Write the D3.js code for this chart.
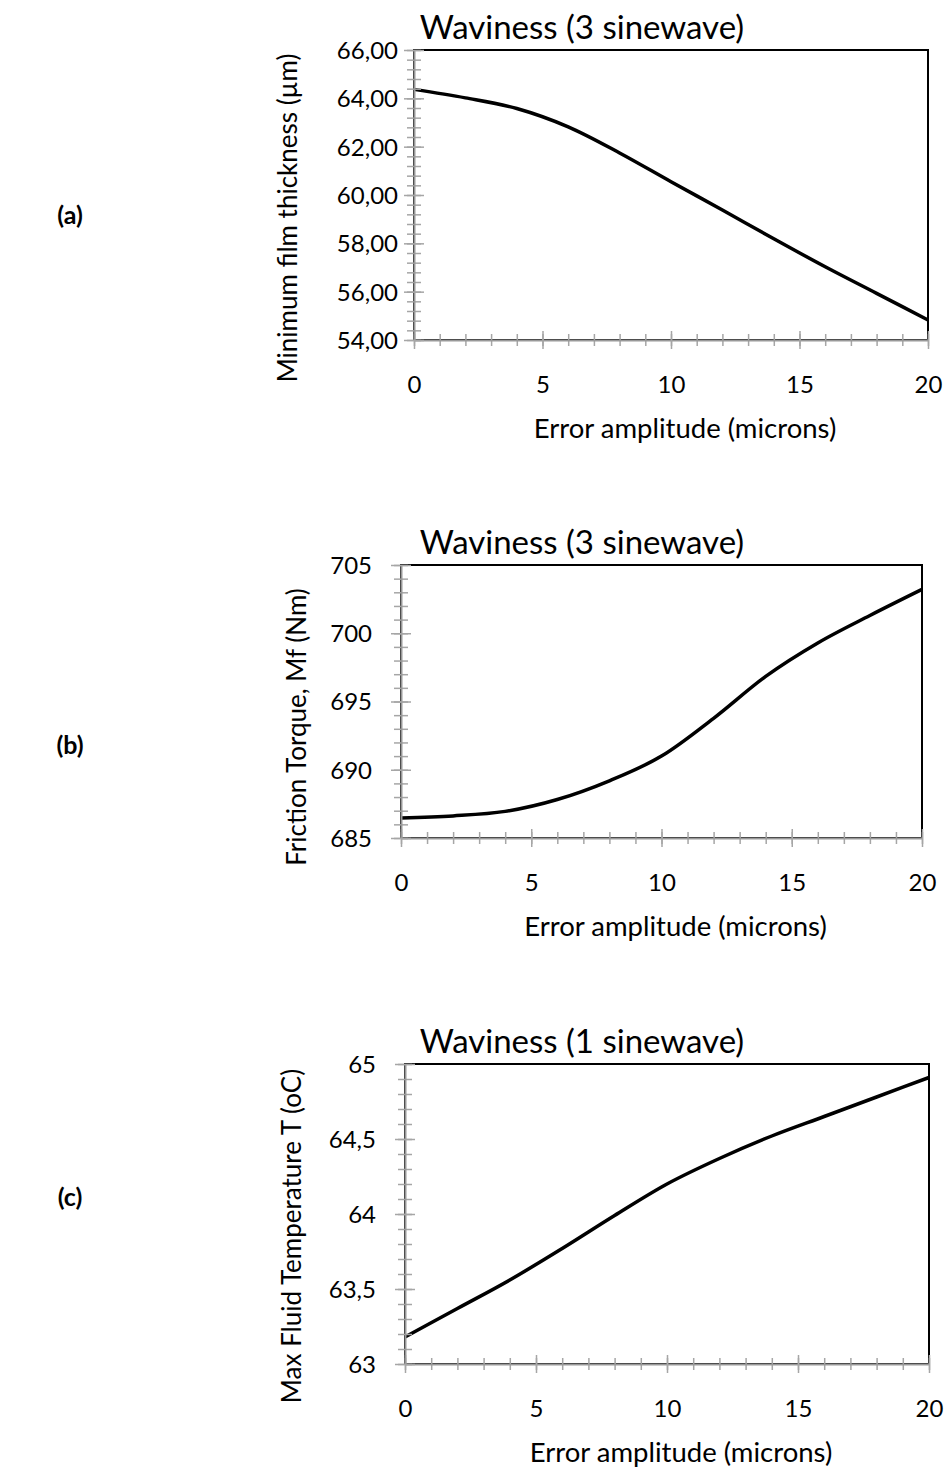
<!DOCTYPE html>
<html>
<head>
<meta charset="utf-8">
<script src="https://cdn.jsdelivr.net/npm/d3@7"></script>
<style>
	body { margin: 0; background: #fff; }
	text { font-family: Lato, "Open Sans", sans-serif; fill: #000; }
</style>
</head>
<body>
<div id="chart"></div>
<script>
// error amplitude (microns), shared x values of the three curves
const errorAmp = [0, 2, 4, 6, 8, 10, 12, 14, 16, 18, 20];

// (a) minimum film thickness (um), 3 sinewave
const filmThickness = [64.37, 64.02, 63.58, 62.82, 61.74, 60.55, 59.38, 58.19, 57.03, 55.93, 54.83];
// (b) friction torque Mf (Nm), 3 sinewave
const frictionTorque = [686.47, 686.62, 686.95, 687.82, 689.19, 691.00, 693.77, 696.84, 699.29, 701.30, 703.21];
// (c) max fluid temperature (oC), 1 sinewave
const maxTemp = [63.18, 63.37, 63.56, 63.77, 63.99, 64.20, 64.37, 64.52, 64.65, 64.78, 64.91];

const xTicks = [0, 5, 10, 15, 20];
const yTicksA = [54, 56, 58, 60, 62, 64, 66];
const yTicksB = [685, 690, 695, 700, 705];
const yTicksC = [63, 63.5, 64, 64.5, 65];

const titles = ["Waviness (3 sinewave)", "Waviness (3 sinewave)", "Waviness (1 sinewave)"];
const yTitles = ["Minimum film thickness (\u00b5m)", "Friction Torque, Mf (Nm)", "Max Fluid Temperature T (oC)"];
const xTitle = "Error amplitude (microns)";
const panelLabels = ["(a)", "(b)", "(c)"];

const svg = d3.select("#chart").append("svg")
	.attr("width", 947)
	.attr("height", 1467);

const comma = d => String(d).replace(".", ",");

const panels = [
	{values: filmThickness, yTicks: yTicksA, minorStep: 0.4, fmt: d => d.toFixed(2).replace(".", ","),
		left: 414, right: 928, top: 50, bottom: 340, yLabelGap: 16,
		yTitleX: 288, yTitleY: 218, labelY: 215},
	{values: frictionTorque, yTicks: yTicksB, minorStep: 1, fmt: comma,
		left: 401, right: 922, top: 565, bottom: 838, yLabelGap: 29,
		yTitleX: 297, yTitleY: 727, labelY: 745},
	{values: maxTemp, yTicks: yTicksC, minorStep: 0.1, fmt: comma,
		left: 405, right: 929, top: 1064, bottom: 1364, yLabelGap: 29,
		yTitleX: 292, yTitleY: 1236, labelY: 1197}
];

panels.forEach((p, i) => drawPanel(p, i));

function drawPanel(p, i) {
	let yMin = p.yTicks[0], yMax = p.yTicks[p.yTicks.length - 1];
	let x = d3.scaleLinear().domain([0, 20]).range([p.left, p.right]);
	let y = d3.scaleLinear().domain([yMin, yMax]).range([p.bottom, p.top]);
	let g = svg.append("g");

	// plot area border
	g.append("rect")
		.attr("x", p.left)
		.attr("y", p.top)
		.attr("width", p.right - p.left)
		.attr("height", p.bottom - p.top)
		.attr("fill", "none")
		.attr("stroke", "#000")
		.attr("stroke-width", 2);

	// curve
	let line = d3.line()
		.x((d, k) => x(errorAmp[k]))
		.y(d => y(d))
		.curve(d3.curveMonotoneX);

	g.append("path")
		.datum(p.values)
		.attr("fill", "none")
		.attr("stroke", "#000")
		.attr("stroke-width", 3.5)
		.attr("stroke-linejoin", "round")
		.attr("d", line);

	// minor ticks (cross)
	let minorX = d3.range(0, 21, 1);
	let minorY = d3.range(0, Math.round((yMax - yMin) / p.minorStep) + 1).map(k => yMin + k * p.minorStep);

	g.append("g")
		.attr("transform", `translate(0,${p.bottom})`)
		.call(d3.axisBottom(x).tickValues(minorX).tickFormat("").tickSizeOuter(0))
		.call(a => a.select(".domain").remove())
		.call(a => a.selectAll(".tick line").attr("y1", -6).attr("y2", 6)
			.attr("stroke", "#a6a6a6").attr("stroke-width", 1.5));

	g.append("g")
		.attr("transform", `translate(${p.left},0)`)
		.call(d3.axisLeft(y).tickValues(minorY).tickFormat("").tickSizeOuter(0))
		.call(a => a.select(".domain").remove())
		.call(a => a.selectAll(".tick line").attr("x1", -7).attr("x2", 7)
			.attr("stroke", "#a6a6a6").attr("stroke-width", 1.5));

	// major x axis
	g.append("g")
		.attr("transform", `translate(0,${p.bottom})`)
		.call(d3.axisBottom(x).tickValues(xTicks).tickSizeOuter(0))
		.call(a => a.select(".domain").attr("stroke", "#999").attr("stroke-width", 2))
		.call(a => a.selectAll(".tick line").attr("y1", -9).attr("y2", 9)
			.attr("stroke", "#a6a6a6").attr("stroke-width", 1.5))
		.call(a => a.selectAll(".tick text")
			.attr("y", 45).attr("dy", "0.35em")
			.style("font-size", "24px"));

	// major y axis
	g.append("g")
		.attr("transform", `translate(${p.left},0)`)
		.call(d3.axisLeft(y).tickValues(p.yTicks).tickFormat(p.fmt).tickSizeOuter(0))
		.call(a => a.select(".domain").attr("stroke", "#999").attr("stroke-width", 2))
		.call(a => a.selectAll(".tick line").attr("x1", -10).attr("x2", 10)
			.attr("stroke", "#a6a6a6").attr("stroke-width", 1.5))
		.call(a => a.selectAll(".tick text")
			.attr("x", -p.yLabelGap).attr("dy", "0.35em")
			.style("font-size", "24px"));

	// texts
	g.append("text")
		.attr("x", 582)
		.attr("y", p.top - 23)
		.attr("dy", "0.35em")
		.attr("text-anchor", "middle")
		.style("font-size", "33px")
		.text(titles[i]);

	g.append("text")
		.attr("x", (p.left + p.right) / 2 + 14)
		.attr("y", p.bottom + 88)
		.attr("dy", "0.35em")
		.attr("text-anchor", "middle")
		.style("font-size", "27.5px")
		.text(xTitle);

	g.append("text")
		.attr("transform", `translate(${p.yTitleX},${p.yTitleY}) rotate(-90)`)
		.attr("dy", "0.35em")
		.attr("text-anchor", "middle")
		.style("font-size", "26px")
		.text(yTitles[i]);

	g.append("text")
		.attr("x", 70)
		.attr("y", p.labelY)
		.attr("dy", "0.35em")
		.attr("text-anchor", "middle")
		.style("font-size", "25px")
		.style("font-weight", "bold")
		.text(panelLabels[i]);
}
</script>
</body>
</html>
